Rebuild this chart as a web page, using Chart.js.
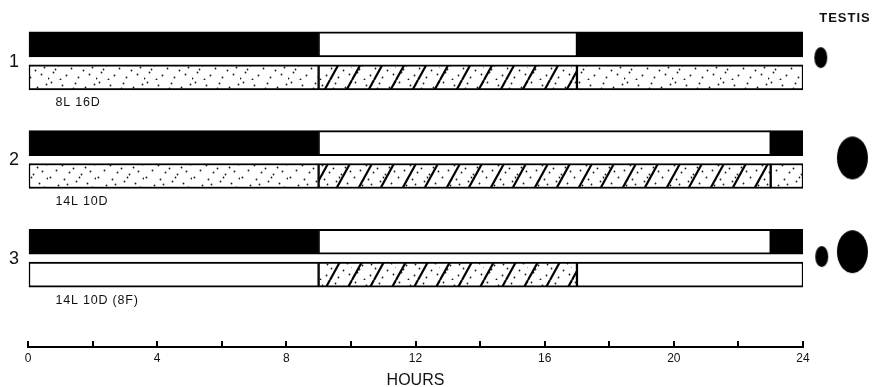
<!DOCTYPE html>
<html>
<head>
<meta charset="utf-8">
<script src="https://cdn.jsdelivr.net/npm/chart.js@4/dist/chart.umd.min.js"></script>
<style>
  html, body { margin: 0; padding: 0; background: #fff; }
  canvas { display: block; }
</style>
</head>
<body>
<canvas id="c" width="874" height="387"></canvas>
<script>
// ---------- data ----------
const rowNumbers   = ['1', '2', '3'];
const regimeLabels = ['8L 16D', '14L 10D', '14L 10D (8F)'];
const lightsOn     = [9, 9, 9];      // hour lights come on
const lightsOff    = [17, 23, 23];   // hour lights go off
const hatchStart   = [9, 9, 9];      // hatched phase start (hours)
const hatchEnd     = [17, 23, 17];   // hatched phase end (hours)
const stippledRest = [true, true, false]; // rest of lower bar stippled?
const hourTicks    = [0, 4, 8, 12, 16, 20, 24];
const testisX      = [24.55, 25.53, 24.58, 25.53];
const testisY      = [0.4, 3.45, 6.45, 6.3];
const testisSize   = ['small', 'large', 'small', 'large'];
const axisTitle    = 'HOURS';
const sideTitle    = 'TESTIS';

// ---------- patterns (texture only) ----------
const DOTS = [[3,2],[14,5],[27,3],[37,7],[8,10],[21,12],[33,14],[42,11],[2,17],[16,19],
              [28,21],[39,23],[10,25],[23,28],[35,30],[5,32],[18,35],[30,37],[41,34],[12,39],
              [25,8],[44,27],[7,29],[31,17],[19,24],[46,4],[47,18],[0,38]];
function drawDots(g) {
  g.fillStyle = '#1a1a1a';
  DOTS.forEach(([x, y]) => { g.beginPath(); g.arc(x + 0.5, y + 0.5, 0.9, 0, Math.PI * 2); g.fill(); });
}
function makeStipple() {
  const w = 48, h = 40;
  const c = document.createElement('canvas'); c.width = w; c.height = h;
  const g = c.getContext('2d');
  g.fillStyle = '#fff'; g.fillRect(0, 0, w, h);
  drawDots(g);
  return g.createPattern(c, 'repeat');
}
function makeHatch() {
  const w = 44, h = 40, step = 22;
  const c = document.createElement('canvas'); c.width = w; c.height = h;
  const g = c.getContext('2d');
  g.fillStyle = '#fff'; g.fillRect(0, 0, w, h);
  drawDots(g);
  g.strokeStyle = '#000'; g.lineWidth = 2.2;
  for (let dx = -step; dx <= w; dx += step) { g.beginPath(); g.moveTo(dx, h); g.lineTo(dx + step, 0); g.stroke(); }
  return g.createPattern(c, 'repeat');
}
function makeEllipse(kind) {
  const w = kind === 'small' ? 13 : 31, h = kind === 'small' ? 21 : 43;
  const c = document.createElement('canvas'); c.width = w + 2; c.height = h + 2;
  const g = c.getContext('2d');
  g.fillStyle = '#000';
  g.beginPath(); g.ellipse((w + 2) / 2, (h + 2) / 2, w / 2, h / 2, 0, 0, Math.PI * 2); g.fill();
  return c;
}
const stipple = makeStipple();
const hatch = makeHatch();

// ---------- build datasets ----------
const topY = i => 3 * i, lowY = i => 3 * i + 1;
const dark = [], light = [], stip = [], plain = [], hatched = [];
rowNumbers.forEach((r, i) => {
  dark.push({ y: topY(i), x: [0, lightsOn[i]] });
  dark.push({ y: topY(i), x: [lightsOff[i], 24] });
  light.push({ y: topY(i), x: [lightsOn[i], lightsOff[i]] });
  const rest = stippledRest[i] ? stip : plain;
  rest.push({ y: lowY(i), x: [0, hatchStart[i]] });
  rest.push({ y: lowY(i), x: [hatchEnd[i], 24] });
  hatched.push({ y: lowY(i), x: [hatchStart[i], hatchEnd[i]] });
});

const barBase = { type: 'bar', grouped: false, barThickness: 25, borderSkipped: false, borderColor: '#000',
  borderWidth: { top: 2, bottom: 2, left: 1.5, right: 1.5 } };

const FONT = "'Liberation Sans', Arial, Helvetica, sans-serif";

const labelsPlugin = {
  id: 'labels',
  afterDraw(chart) {
    const { ctx, scales: { x, y } } = chart;
    ctx.save();
    ctx.fillStyle = '#111';
    ctx.textBaseline = 'middle';
    rowNumbers.forEach((r, i) => {
      ctx.font = '18px ' + FONT; ctx.textAlign = 'center'; ctx.letterSpacing = '0px';
      ctx.fillText(r, 14, y.getPixelForValue(topY(i) + 0.52));
      ctx.font = '12.5px ' + FONT; ctx.textAlign = 'left'; ctx.letterSpacing = '0.8px';
      ctx.fillText(regimeLabels[i], x.getPixelForValue(0.85), y.getPixelForValue(lowY(i) + 0.78));
    });
    ctx.font = 'bold 13px ' + FONT; ctx.textAlign = 'center';
    ctx.letterSpacing = '1px';
    ctx.fillText(sideTitle, x.getPixelForValue(25.3), y.getPixelForValue(-0.8));
    ctx.restore();
  }
};

new Chart(document.getElementById('c'), {
  type: 'bar',
  data: {
    datasets: [
      { ...barBase, label: 'Dark', data: dark, backgroundColor: '#000' },
      { ...barBase, label: 'Light', data: light, backgroundColor: '#fff' },
      { ...barBase, label: 'Stippled', data: stip, backgroundColor: stipple },
      { ...barBase, label: 'Plain', data: plain, backgroundColor: '#fff' },
      { ...barBase, label: 'Hatched', data: hatched, backgroundColor: hatch },
      { type: 'scatter', label: 'Testis', clip: false,
        data: testisX.map((v, i) => ({ x: v, y: testisY[i] })),
        pointStyle: testisSize.map(makeEllipse), pointRadius: 70, borderWidth: 0 }
    ]
  },
  options: {
    indexAxis: 'y',
    responsive: false,
    animation: false,
    events: [],
    layout: { autoPadding: false, padding: { left: 28, right: 71, top: 28, bottom: 0 } },
    plugins: { legend: { display: false }, tooltip: { enabled: false } },
    scales: {
      y: { type: 'linear', reverse: true, min: -0.5, max: 9.2, offset: false, display: false },
      x: {
        type: 'linear', position: 'bottom', min: 0, max: 24, offset: false,
        afterFit: s => { s.height = 40; },
        afterBuildTicks: s => { s.ticks = []; for (let v = 0; v <= 24; v += 2) s.ticks.push({ value: v }); },
        grid: { drawOnChartArea: false, color: '#000', lineWidth: 2, tickLength: -6 },
        border: { display: true, color: '#000', width: 2 },
        ticks: {
          autoSkip: false, maxRotation: 0, padding: 10, color: '#111',
          font: { family: FONT, size: 12 },
          callback: v => hourTicks.includes(v) ? String(v) : ''
        },
        title: { display: true, text: axisTitle, color: '#111', font: { family: FONT, size: 16, lineHeight: 0.85 },
          padding: { top: 0, bottom: 0 } }
      }
    }
  },
  plugins: [labelsPlugin]
});
</script>
</body>
</html>
